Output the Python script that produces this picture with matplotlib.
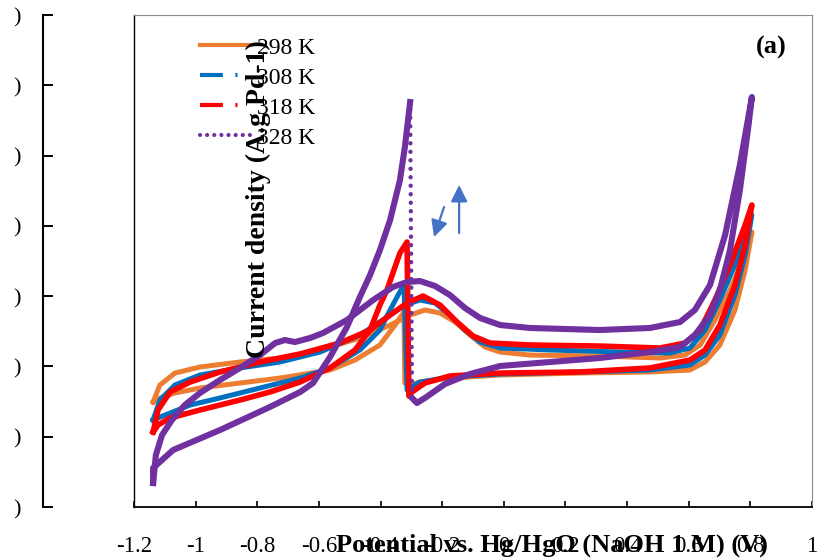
import matplotlib
matplotlib.use("Agg")
import matplotlib.pyplot as plt
from matplotlib.lines import Line2D
import numpy as np

plt.rcParams['font.family'] = ['Liberation Serif', 'DejaVu Serif']

# Cyclic voltammograms, potential (V) vs current density (arbitrary units, axis labels unreadable)
labels = ['298 K', '308 K', '318 K', '328 K']
colors = ['#ED7D31', '#0070C0', '#FF0000', '#7030A0']

# 298 K: forward (anodic) scan then reverse scan
e298 = [-1.138, -1.116, -1.067, -0.986, -0.856, -0.726, -0.596, -0.467, -0.369, -0.304,
        -0.256, -0.207, -0.158, -0.110, -0.061, -0.012, 0.085, 0.312, 0.507, 0.588,
        0.637, 0.685, 0.734, 0.783, 0.805,
        0.783, 0.750, 0.701, 0.653, 0.604, 0.474, 0.247, -0.012, -0.175, -0.272,
        -0.304, -0.321, -0.324, -0.353, -0.402, -0.483, -0.564, -0.726, -0.856, -0.986,
        -1.067, -1.116, -1.138]
j298 = [1.494, 1.736, 1.906, 1.992, 2.063, 2.120, 2.234, 2.404, 2.589, 2.731,
        2.803, 2.760, 2.632, 2.447, 2.276, 2.205, 2.162, 2.148, 2.120, 2.162,
        2.305, 2.660, 3.087, 3.585, 3.912,
        3.372, 2.803, 2.305, 2.063, 1.949, 1.921, 1.906, 1.878, 1.835, 1.778,
        1.736, 1.764, 2.774, 2.589, 2.305, 2.091, 1.949, 1.835, 1.764, 1.693,
        1.622, 1.551, 1.494]

# 308 K
e308 = [-1.138, -1.116, -1.067, -0.986, -0.856, -0.726, -0.596, -0.467, -0.369, -0.321,
        -0.272, -0.223, -0.175, -0.126, -0.077, -0.012, 0.150, 0.377, 0.539, 0.604,
        0.653, 0.701, 0.750, 0.805,
        0.783, 0.750, 0.701, 0.653, 0.604, 0.474, 0.247, -0.012, -0.175, -0.272,
        -0.304, -0.314, -0.324, -0.343, -0.369, -0.402, -0.467, -0.564, -0.661, -0.791,
        -0.921, -1.018, -1.099, -1.138]
j308 = [1.238, 1.522, 1.736, 1.878, 1.978, 2.063, 2.205, 2.447, 2.731, 2.874,
        2.945, 2.902, 2.731, 2.518, 2.347, 2.262, 2.234, 2.205, 2.191, 2.262,
        2.518, 2.945, 3.443, 4.154,
        3.585, 3.016, 2.447, 2.162, 2.020, 1.949, 1.921, 1.892, 1.849, 1.778,
        1.693, 1.665, 3.158, 3.016, 2.803, 2.518, 2.234, 1.978, 1.835, 1.693,
        1.551, 1.451, 1.309, 1.238]

# 318 K
e318 = [-1.138, -1.122, -1.083, -1.018, -0.921, -0.791, -0.661, -0.532, -0.434, -0.369,
        -0.314, -0.262, -0.207, -0.152, -0.100, -0.045, 0.085, 0.312, 0.507, 0.588,
        0.637, 0.685, 0.734, 0.783, 0.805,
        0.783, 0.750, 0.701, 0.653, 0.604, 0.474, 0.247, -0.012, -0.175, -0.256,
        -0.298, -0.308, -0.314, -0.337, -0.360, -0.379, -0.402, -0.434, -0.483, -0.564,
        -0.661, -0.759, -0.856, -0.986, -1.083, -1.122, -1.138]
j318 = [1.067, 1.380, 1.636, 1.778, 1.921, 2.063, 2.177, 2.333, 2.518, 2.731,
        2.902, 3.002, 2.874, 2.632, 2.433, 2.333, 2.305, 2.290, 2.262, 2.333,
        2.518, 2.945, 3.443, 4.012, 4.297,
        3.727, 3.158, 2.589, 2.234, 2.091, 1.978, 1.921, 1.906, 1.864, 1.764,
        1.636, 1.579, 3.770, 3.614, 3.329, 3.087, 2.874, 2.518, 2.234, 1.978,
        1.778, 1.636, 1.522, 1.380, 1.266, 1.167, 1.067]

# 328 K: forward scan, reverse scan down to the minimum, then from the spike top back to start
e328_fwd = [-1.138, -1.129, -1.109, -1.077, -1.035, -0.986, -0.921, -0.856, -0.791, -0.742,
            -0.710, -0.678, -0.629, -0.587, -0.509, -0.424, -0.360, -0.314, -0.272, -0.223,
            -0.175, -0.126, -0.077, -0.012, 0.085, 0.312, 0.474, 0.572, 0.620, 0.669,
            0.718, 0.766, 0.805]
j328_fwd = [0.341, 0.740, 1.024, 1.238, 1.451, 1.622, 1.807, 1.978, 2.162, 2.333,
            2.376, 2.347, 2.404, 2.475, 2.660, 2.945, 3.130, 3.201, 3.215, 3.144,
            3.016, 2.831, 2.689, 2.589, 2.547, 2.518, 2.547, 2.632, 2.803, 3.158,
            3.870, 4.866, 5.833]
e328_rev = [0.805, 0.792, 0.766, 0.734, 0.701, 0.669, 0.620, 0.572, 0.474, 0.312, 0.150,
            -0.012, -0.110, -0.191, -0.256, -0.282, -0.298]
j328_rev = [5.833, 5.363, 4.510, 3.656, 3.087, 2.731, 2.447, 2.276, 2.205, 2.120, 2.063,
            2.006, 1.892, 1.750, 1.551, 1.480, 1.551]
e328_back = [-0.304, -0.321, -0.337, -0.369, -0.402, -0.434, -0.467, -0.509, -0.564, -0.619,
             -0.661, -0.759, -0.921, -1.073, -1.138, -1.138]
j328_back = [5.762, 5.122, 4.652, 4.083, 3.656, 3.301, 2.988, 2.561, 2.134, 1.764,
             1.636, 1.423, 1.095, 0.811, 0.555, 0.341]

xticks = [-1.2, -1.0, -0.8, -0.6, -0.4, -0.2, 0.0, 0.2, 0.4, 0.6, 0.8, 1.0]
xticklabels = ['-1.2', '-1', '-0.8', '-0.6', '-0.4', '-0.2', '0', '0.2', '0.4', '0.6', '0.8', '1']
yticks = [0, 1, 2, 3, 4, 5, 6, 7]

fig = plt.figure(figsize=(8.21, 5.59), dpi=100)
ax = fig.add_axes([134 / 821, 52 / 559, 678 / 821, 492 / 559])

ax.plot(e298, j298, color=colors[0], lw=3.6, solid_joinstyle='round')
ax.plot(e308, j308, color=colors[1], lw=3.6, solid_joinstyle='round')
ax.plot(e318, j318, color=colors[2], lw=4.0, solid_joinstyle='round')
ax.plot(e328_fwd + e328_rev, j328_fwd + j328_rev, color=colors[3], lw=4.4,
        solid_joinstyle='round')
ax.plot(e328_back, j328_back, color=colors[3], lw=4.4, solid_joinstyle='round')
# sparse points of the jump show up as separate dots
ax.plot([e328_rev[-1], e328_back[0]], [j328_rev[-1], j328_back[0]], color=colors[3],
        lw=3.2, linestyle=(0, (0.01, 1.9)), dash_capstyle='round')

ax.set_xlim(-1.2, 1.0)
ax.set_ylim(0, 7)
ax.set_xticks(xticks)
ax.set_xticklabels(xticklabels)
ax.set_yticks(yticks)
ax.set_yticklabels([')'] * len(yticks))
ax.tick_params(axis='x', direction='in', length=4.5, width=1.2, pad=21, labelsize=16.5)
ax.tick_params(axis='y', direction='in', length=7, width=1.4, pad=16, labelsize=16)

ax.spines['left'].set_position(('outward', 65.5))
ax.spines['left'].set_linewidth(1.5)
ax.spines['bottom'].set_linewidth(1.3)
for s in ['top', 'right']:
    ax.spines[s].set_color('#8C8C8C')
    ax.spines[s].set_linewidth(0.8)
ax.axvline(-1.2, color='black', lw=1.0, clip_on=False)

# scan direction arrows
arrow_kw = dict(arrowstyle='-|>', color='#4472C4', lw=1.6, mutation_scale=25,
                shrinkA=0, shrinkB=0)
ax.annotate('', xy=(-0.2265, 3.841), xytext=(-0.194, 4.268), arrowprops=arrow_kw)
ax.annotate('', xy=(-0.145, 4.581), xytext=(-0.145, 3.898), arrowprops=arrow_kw)

handles = [
    Line2D([], [], color=colors[0], lw=3),
    Line2D([], [], color=colors[1], lw=3, linestyle=(0, (5.5, 3, 0.5, 3))),
    Line2D([], [], color=colors[2], lw=3, linestyle=(0, (5.5, 3, 0.5, 3))),
    Line2D([], [], color=colors[3], lw=3, linestyle=(0, (0.01, 1.7)), dash_capstyle='round'),
]
ax.legend(handles, labels, loc='upper left', bbox_to_anchor=(200 / 821, 1 - 37 / 559),
          bbox_transform=fig.transFigure, frameon=False, fontsize=17,
          handlelength=2.12, handletextpad=0.3, labelspacing=0.36,
          borderpad=0, borderaxespad=0)

fig.text(771 / 821, 1 - 47 / 559, '(a)', fontsize=19, fontweight='bold',
         ha='center', va='center')
fig.text(552 / 821, 1 - 545 / 559, 'Potential vs. Hg/HgO (NaOH 1 M) (V)', fontsize=19,
         fontweight='bold', ha='center', va='center')
fig.text(258 / 821, 1 - 199 / 559, 'Current density (A.g Pd-1)', fontsize=20,
         fontweight='bold', ha='center', va='center', rotation=90)

fig.savefig('out.png', dpi=100)
